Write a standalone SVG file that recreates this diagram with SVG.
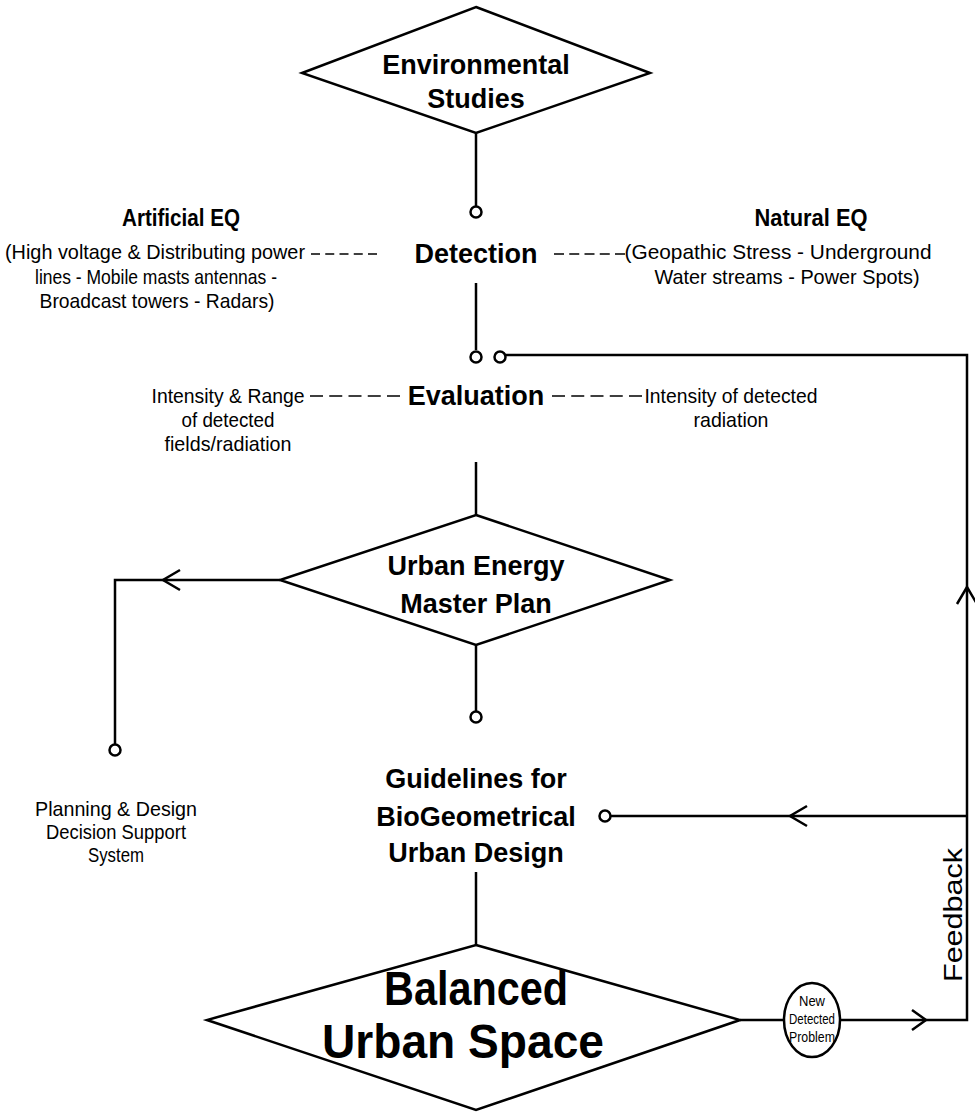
<svg xmlns="http://www.w3.org/2000/svg" width="975" height="1115" viewBox="0 0 975 1115">
<style>
.shape{fill:#fff;stroke:#000;stroke-width:2.5}
.ln{fill:none;stroke:#000;stroke-width:2.5}
.dash{fill:none;stroke:#000;stroke-width:1.5}
.dot{fill:#fff;stroke:#000;stroke-width:2.5}
.t{font-family:"Liberation Sans",Arial,sans-serif;font-weight:bold;font-size:27px;text-anchor:middle;fill:#000}
.h{font-family:"Liberation Sans",Arial,sans-serif;font-weight:bold;font-size:23px;text-anchor:middle;fill:#000}
.n{font-family:"Liberation Sans",Arial,sans-serif;font-size:21px;text-anchor:middle;fill:#000}
.s{font-family:"Liberation Sans",Arial,sans-serif;font-size:14px;text-anchor:middle;fill:#000}
.big{font-family:"Liberation Sans",Arial,sans-serif;font-weight:bold;font-size:48px;text-anchor:middle;fill:#000}
</style>
<rect width="975" height="1115" fill="#fff"/>
<g id="connectors">
<line class="ln" x1="476" y1="133" x2="476" y2="207"/>
<line class="ln" x1="476" y1="283" x2="476" y2="350"/>
<polyline class="ln" points="505,355 967,355 967,1020 840,1020"/>
<line class="ln" x1="740" y1="1020" x2="784" y2="1020"/>
<polyline class="ln" points="912,1010 926,1020 912,1030"/>
<polyline class="ln" points="957,604 967,587 977,604"/>
<line class="ln" x1="476" y1="462" x2="476" y2="515"/>
<polyline class="ln" points="280,580 115,580 115,745"/>
<polyline class="ln" points="180,570 163,580 180,590"/>
<line class="ln" x1="476" y1="645" x2="476" y2="712"/>
<line class="ln" x1="611" y1="816" x2="967" y2="816"/>
<polyline class="ln" points="807,806 790,816 807,826"/>
<line class="ln" x1="476" y1="872" x2="476" y2="945"/>
<line class="dash" x1="311" y1="254" x2="377" y2="254" stroke-dasharray="9 5.25"/>
<line class="dash" x1="554" y1="254" x2="625" y2="254" stroke-dasharray="10 5.25"/>
<line class="dash" x1="310" y1="396" x2="400" y2="396" stroke-dasharray="13 6.25"/>
<line class="dash" x1="552" y1="396" x2="642" y2="396" stroke-dasharray="13 6.25"/>
</g>
<g id="environmental-studies">
<polygon class="shape" points="476,7 650,73 476,133 302,73"/>
<text class="t" x="476" y="74">Environmental</text>
<text class="t" x="476" y="108">Studies</text>
</g>
<g id="detection">
<circle class="dot" cx="476" cy="212" r="5.5"/>
<text class="t" x="476" y="263">Detection</text>
</g>
<g id="artificial-eq">
<text class="h" x="181" y="226" textLength="118" lengthAdjust="spacingAndGlyphs">Artificial EQ</text>
<text class="n" x="155" y="259" textLength="300" lengthAdjust="spacingAndGlyphs">(High voltage &amp; Distributing power</text>
<text class="n" x="156" y="284" textLength="242" lengthAdjust="spacingAndGlyphs">lines - Mobile masts antennas -</text>
<text class="n" x="157" y="308" textLength="235" lengthAdjust="spacingAndGlyphs">Broadcast towers - Radars)</text>
</g>
<g id="natural-eq">
<text class="h" x="811" y="226" textLength="113" lengthAdjust="spacingAndGlyphs">Natural EQ</text>
<text class="n" x="778" y="259" textLength="307" lengthAdjust="spacingAndGlyphs">(Geopathic Stress - Underground</text>
<text class="n" x="787" y="284" textLength="265" lengthAdjust="spacingAndGlyphs">Water streams - Power Spots)</text>
</g>
<g id="evaluation">
<circle class="dot" cx="476" cy="357" r="5.5"/>
<circle class="dot" cx="500" cy="357" r="5.5"/>
<text class="t" x="476" y="405">Evaluation</text>
</g>
<g id="eval-left">
<text class="n" x="228" y="403" textLength="153" lengthAdjust="spacingAndGlyphs">Intensity &amp; Range</text>
<text class="n" x="228" y="427" textLength="93" lengthAdjust="spacingAndGlyphs">of detected</text>
<text class="n" x="228" y="451" textLength="127" lengthAdjust="spacingAndGlyphs">fields/radiation</text>
</g>
<g id="eval-right">
<text class="n" x="731" y="403" textLength="173" lengthAdjust="spacingAndGlyphs">Intensity of detected</text>
<text class="n" x="731" y="427" textLength="75" lengthAdjust="spacingAndGlyphs">radiation</text>
</g>
<g id="urban-energy-master-plan">
<polygon class="shape" points="476,515 670,580 476,645 280,580"/>
<text class="t" x="476" y="575">Urban Energy</text>
<text class="t" x="476" y="613">Master Plan</text>
</g>
<g id="planning-dss">
<circle class="dot" cx="115" cy="750" r="5.5"/>
<text class="n" x="116" y="816" textLength="162" lengthAdjust="spacingAndGlyphs">Planning &amp; Design</text>
<text class="n" x="116" y="839" textLength="140" lengthAdjust="spacingAndGlyphs">Decision Support</text>
<text class="n" x="116" y="862" textLength="56" lengthAdjust="spacingAndGlyphs">System</text>
</g>
<g id="guidelines">
<circle class="dot" cx="476" cy="717" r="5.5"/>
<text class="t" x="476" y="788">Guidelines for</text>
<text class="t" x="476" y="826">BioGeometrical</text>
<text class="t" x="476" y="862">Urban Design</text>
<circle class="dot" cx="605" cy="816" r="5.5"/>
</g>
<g id="balanced-urban-space">
<polygon class="shape" points="476,945 740,1020 476,1110 207,1020"/>
<text class="big" x="476" y="1005" textLength="184" lengthAdjust="spacingAndGlyphs">Balanced</text>
<text class="big" x="463" y="1058" textLength="282" lengthAdjust="spacingAndGlyphs">Urban Space</text>
</g>
<g id="new-detected-problem">
<ellipse class="shape" cx="812" cy="1020" rx="28" ry="37"/>
<text class="s" x="812" y="1006" textLength="26" lengthAdjust="spacingAndGlyphs">New</text>
<text class="s" x="812" y="1024" textLength="46" lengthAdjust="spacingAndGlyphs">Detected</text>
<text class="s" x="812" y="1042" textLength="46" lengthAdjust="spacingAndGlyphs">Problem</text>
</g>
<g id="feedback-label">
<text class="n" transform="translate(962,915) rotate(-90)" style="font-size:26px" textLength="134" lengthAdjust="spacingAndGlyphs">Feedback</text>
</g>
</svg>
